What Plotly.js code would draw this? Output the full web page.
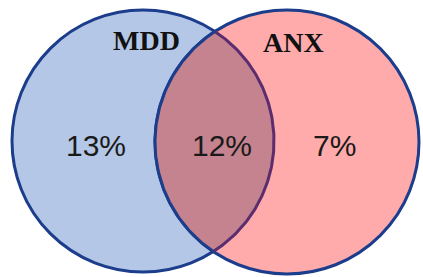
<!DOCTYPE html>
<html>
<head>
<meta charset="utf-8">
<script src="https://cdn.plot.ly/plotly-3.0.1.min.js"></script>
<style>html,body{margin:0;padding:0;background:#fff;}#chart{width:423px;height:277px;}</style>
</head>
<body>
<div id="chart"></div>
<script>
// Data
const setNames = ['MDD', 'ANX'];
const regionLabels = ['13%', '12%', '7%']; // MDD only, both, ANX only

// Geometry (pixel-like coordinates on a 423x277 canvas)
const circles = [
  {cx: 143, cy: 141, r: 131},
  {cx: 287, cy: 142, r: 132}
];
const namePos = [[146, 40], [293, 42]];
const labelPos = [[96, 145], [222, 145], [334, 145]];

const navy = '#1b3d8c';
const purple = '#5b2d6e';
const blueFill = '#b4c7e7';
const pinkFill = '#ffabab';
const mauveFill = '#c4838f';

// intersection points
const A = circles[0], B = circles[1];
const dx = B.cx - A.cx, dy = B.cy - A.cy;
const d = Math.hypot(dx, dy);
const a = (A.r*A.r - B.r*B.r + d*d) / (2*d);
const h = Math.sqrt(A.r*A.r - a*a);
const mx = A.cx + a*dx/d, my = A.cy + a*dy/d;
const p1 = [mx + h*dy/d, my - h*dx/d];
const p2 = [mx - h*dy/d, my + h*dx/d];

function arc(c, pStart, pEnd, n, passX) {
  let t1 = Math.atan2(pStart[1]-c.cy, pStart[0]-c.cx);
  let t2 = Math.atan2(pEnd[1]-c.cy, pEnd[0]-c.cx);
  // choose direction so that arc passes through side passX (+1 right, -1 left)
  let cand = [t2, t2 + 2*Math.PI, t2 - 2*Math.PI];
  let best = null;
  for (const e of cand) {
    if (Math.abs(e - t1) > 2*Math.PI) continue;
    const mid = (t1 + e)/2;
    if (Math.sign(Math.cos(mid)) === passX && Math.abs(e-t1) < 2*Math.PI) {
      if (best === null || Math.abs(e - t1) < Math.abs(best - t1)) best = e;
    }
  }
  const xs = [], ys = [];
  for (let i = 0; i <= n; i++) {
    const t = t1 + (best - t1)*i/n;
    xs.push(c.cx + c.r*Math.cos(t));
    ys.push(c.cy + c.r*Math.sin(t));
  }
  return {xs, ys};
}
const arcA = arc(A, p1, p2, 120, 1);   // right side of left circle
const arcB = arc(B, p2, p1, 120, -1);  // left side of right circle

const traces = [
  {x: arcA.xs.concat(arcB.xs), y: arcA.ys.concat(arcB.ys), mode: 'lines', fill: 'toself',
   fillcolor: mauveFill, line: {width: 0}, hoverinfo: 'skip', showlegend: false},
  {x: arcA.xs, y: arcA.ys, mode: 'lines', line: {color: purple, width: 3}, hoverinfo: 'skip', showlegend: false},
  {x: arcB.xs, y: arcB.ys, mode: 'lines', line: {color: navy, width: 3}, hoverinfo: 'skip', showlegend: false}
];

const shapes = [
  {type: 'circle', xref: 'x', yref: 'y', layer: 'below',
   x0: A.cx - A.r, x1: A.cx + A.r, y0: A.cy - A.r, y1: A.cy + A.r,
   fillcolor: blueFill, line: {color: navy, width: 3}},
  {type: 'circle', xref: 'x', yref: 'y', layer: 'below',
   x0: B.cx - B.r, x1: B.cx + B.r, y0: B.cy - B.r, y1: B.cy + B.r,
   fillcolor: pinkFill, line: {color: navy, width: 3}}
];

const annotations = [];
setNames.forEach((n, i) => annotations.push({
  x: namePos[i][0], y: namePos[i][1], xref: 'x', yref: 'y', text: '<b>' + n + '</b>', showarrow: false,
  font: {family: 'Liberation Serif, Times New Roman, serif', size: 28, color: '#111'}
}));
regionLabels.forEach((t, i) => annotations.push({
  x: labelPos[i][0], y: labelPos[i][1], xref: 'x', yref: 'y', text: t, showarrow: false,
  font: {family: 'Liberation Sans, Arial, sans-serif', size: 30, color: '#1a1a1a'}
}));

const layout = {
  width: 423, height: 277,
  margin: {l: 0, r: 0, t: 0, b: 0, pad: 0},
  paper_bgcolor: '#ffffff', plot_bgcolor: '#ffffff',
  xaxis: {range: [0, 423], visible: false, fixedrange: true},
  yaxis: {range: [277, 0], visible: false, fixedrange: true},
  shapes, annotations, showlegend: false
};
Plotly.newPlot('chart', traces, layout, {displayModeBar: false, staticPlot: true});
</script>
</body>
</html>
